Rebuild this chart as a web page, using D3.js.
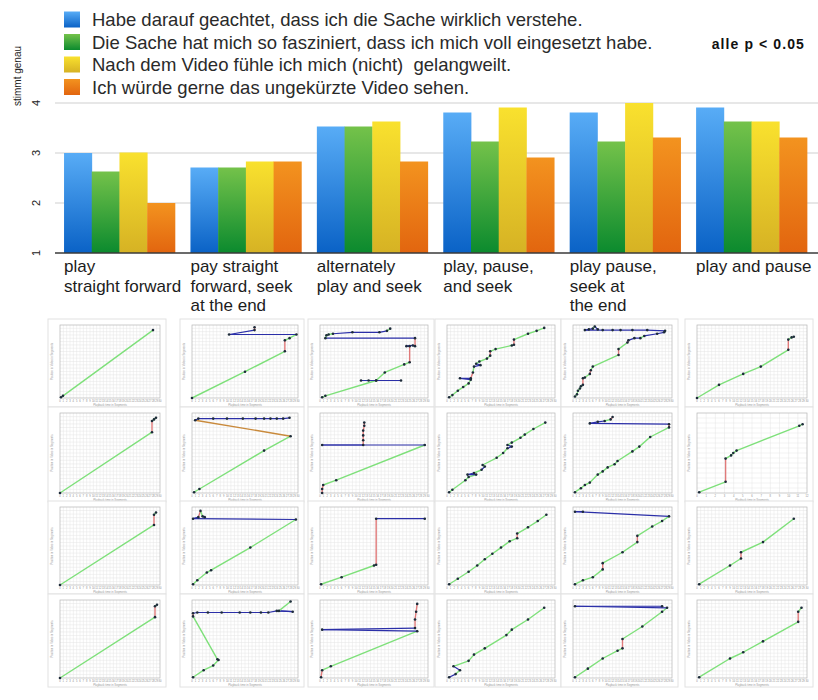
<!DOCTYPE html>
<html>
<head>
<meta charset="utf-8">
<script src="https://cdn.jsdelivr.net/npm/d3@7"></script>
<style>
  body { margin: 0; background: #fff; }
  svg { display: block; font-family: "Liberation Sans", Arial, sans-serif; }
</style>
</head>
<body>
<svg id="chart" width="818" height="700"></svg>
<script>
// *******************
// data
// *******************
const categories = [
  ["play", "straight forward"],
  ["pay straight", "forward, seek", "at the end"],
  ["alternately", "play and seek"],
  ["play, pause,", "and seek"],
  ["play pause,", "seek at", "the end"],
  ["play and pause"]
];
const seriesNames = [
  "Habe darauf geachtet, dass ich die Sache wirklich verstehe.",
  "Die Sache hat mich so fasziniert, dass ich mich voll eingesetzt habe.",
  "Nach dem Video fühle ich mich (nicht)  gelangweilt.",
  "Ich würde gerne das ungekürzte Video sehen."
];
const verstehe = [3.0, 2.71, 3.53, 3.81, 3.81, 3.91];
const fasziniert = [2.63, 2.71, 3.53, 3.23, 3.23, 3.63];
const gelangweilt = [3.01, 2.83, 3.63, 3.91, 4.0, 3.63];
const ungekuerzt = [2.0, 2.83, 2.83, 2.91, 3.31, 3.31];
const yTicks = [1, 2, 3, 4];
const yLabel = "stimmt genau";
const note = "alle p < 0.05";

// interaction traces per thumbnail (row by row), [x, y, segment type]
// g = play, r = pause, b = seek, o = jump back
const traces = [
  // row 1
  [[0.01,0.01],[0.03,0.03,"g"],[0.93,0.93,"g"]],
  [[0,0],[0.5,0.36,"g"],[0.876,0.64,"g"],[0.876,0.79,"r"],[0.92,0.82,"g"],[0.985,0.87,"g"],[0.35,0.87,"b"],[0.59,0.93,"b"],[0.59,0.97,"r"]],
  [[0.02,0.01],[0.05,0.03,"g"],[0.52,0.24,"g"],[0.75,0.24,"b"],[0.38,0.24,"b"],[0.45,0.24,"b"],[0.52,0.24,"b"],[0.6,0.35,"g"],[0.78,0.46,"g"],[0.83,0.49,"g"],[0.83,0.71,"r"],[0.8,0.71,"b"],[0.86,0.72,"b"],[0.88,0.71,"b"],[0.88,0.82,"r"],[0.05,0.82,"b"],[0.06,0.86,"g"],[0.08,0.87,"g"],[0.12,0.88,"g"],[0.3,0.9,"b"],[0.55,0.9,"b"],[0.62,0.92,"b"],[0.65,0.95,"g"]],
  [[0.02,0.01],[0.05,0.04,"g"],[0.1,0.1,"g"],[0.15,0.15,"g"],[0.2,0.2,"g"],[0.22,0.25,"g"],[0.12,0.27,"b"],[0.22,0.27,"b"],[0.24,0.35,"r"],[0.25,0.43,"g"],[0.31,0.45,"b"],[0.27,0.47,"b"],[0.3,0.5,"g"],[0.37,0.54,"g"],[0.4,0.58,"g"],[0.4,0.64,"r"],[0.45,0.67,"g"],[0.6,0.72,"g"],[0.62,0.73,"g"],[0.62,0.8,"r"],[0.75,0.88,"g"],[0.83,0.92,"g"],[0.9,0.96,"g"]],
  [[0.02,0.02],[0.04,0.05,"g"],[0.05,0.1,"g"],[0.07,0.13,"g"],[0.08,0.16,"g"],[0.1,0.18,"g"],[0.1,0.27,"r"],[0.12,0.28,"g"],[0.17,0.33,"g"],[0.18,0.38,"r"],[0.2,0.43,"g"],[0.46,0.59,"g"],[0.46,0.67,"r"],[0.55,0.76,"g"],[0.56,0.79,"r"],[0.62,0.82,"b"],[0.68,0.82,"b"],[0.72,0.85,"g"],[0.85,0.88,"b"],[0.92,0.9,"b"],[0.93,0.92,"g"],[0.75,0.93,"b"],[0.6,0.93,"b"],[0.48,0.93,"b"],[0.4,0.93,"b"],[0.3,0.93,"b"],[0.12,0.93,"b"],[0.16,0.94,"b"],[0.2,0.95,"b"],[0.22,0.98,"g"],[0.25,0.94,"b"]],
  [[0,0],[0.2,0.18,"g"],[0.42,0.33,"g"],[0.58,0.43,"g"],[0.83,0.66,"g"],[0.83,0.8,"r"],[0.86,0.83,"g"],[0.88,0.84,"g"]],
  // row 2
  [[0,0],[0.92,0.76,"g"],[0.92,0.9,"r"],[0.94,0.92,"g"],[0.96,0.94,"g"]],
  [[0.02,0.01],[0.07,0.05,"g"],[0.68,0.53,"g"],[0.93,0.71,"g"],[0.03,0.91,"o"],[0.06,0.93,"b"],[0.2,0.93,"b"],[0.33,0.93,"b"],[0.48,0.93,"b"],[0.6,0.93,"b"],[0.68,0.93,"b"],[0.74,0.93,"b"],[0.8,0.93,"b"],[0.86,0.93,"b"],[0.92,0.94,"b"]],
  [[0.02,0],[0.02,0.05,"r"],[0.03,0.1,"r"],[0.15,0.16,"g"],[0.97,0.6,"g"],[0.02,0.6,"b"],[0.4,0.6,"b"],[0.4,0.66,"r"],[0.4,0.72,"r"],[0.4,0.78,"r"],[0.41,0.84,"r"],[0.41,0.88,"r"]],
  [[0.02,0.01],[0.05,0.04,"g"],[0.17,0.16,"g"],[0.2,0.2,"g"],[0.27,0.23,"g"],[0.19,0.23,"b"],[0.25,0.25,"b"],[0.32,0.29,"g"],[0.35,0.33,"b"],[0.33,0.35,"g"],[0.46,0.44,"g"],[0.52,0.5,"g"],[0.56,0.56,"g"],[0.6,0.58,"b"],[0.56,0.6,"b"],[0.6,0.63,"g"],[0.68,0.69,"g"],[0.72,0.73,"g"],[0.8,0.8,"g"],[0.91,0.88,"g"]],
  [[0.02,0.01],[0.08,0.06,"g"],[0.12,0.1,"g"],[0.17,0.13,"g"],[0.25,0.23,"g"],[0.3,0.27,"g"],[0.35,0.32,"g"],[0.42,0.36,"g"],[0.45,0.4,"g"],[0.6,0.52,"g"],[0.67,0.58,"g"],[0.78,0.7,"g"],[0.97,0.82,"g"],[0.97,0.86,"r"],[0.17,0.87,"b"],[0.25,0.89,"b"],[0.32,0.9,"b"],[0.38,0.92,"g"],[0.4,0.95,"r"]],
  [[0.02,0.01],[0.26,0.14,"g"],[0.26,0.43,"r"],[0.31,0.47,"g"],[0.33,0.5,"g"],[0.36,0.53,"g"],[0.93,0.84,"g"],[0.96,0.86,"g"]],
  // row 3
  [[0,0],[0.94,0.77,"g"],[0.94,0.9,"r"],[0.96,0.93,"g"]],
  [[0.01,0.01],[0.05,0.06,"g"],[0.14,0.16,"g"],[0.18,0.19,"g"],[0.55,0.48,"g"],[0.98,0.84,"g"],[0.01,0.85,"b"],[0.06,0.87,"b"],[0.08,0.95,"r"],[0.1,0.88,"g"],[0.12,0.87,"b"]],
  [[0.01,0.01],[0.2,0.1,"g"],[0.5,0.25,"g"],[0.52,0.26,"g"],[0.52,0.85,"r"],[0.97,0.85,"b"]],
  [[0.02,0.01],[0.1,0.08,"g"],[0.2,0.17,"g"],[0.28,0.25,"g"],[0.35,0.33,"g"],[0.42,0.4,"g"],[0.5,0.48,"g"],[0.58,0.56,"g"],[0.65,0.6,"g"],[0.65,0.66,"r"],[0.75,0.74,"g"],[0.84,0.82,"g"],[0.92,0.9,"g"]],
  [[0.02,0.01],[0.1,0.06,"g"],[0.2,0.1,"g"],[0.3,0.2,"g"],[0.3,0.28,"r"],[0.5,0.42,"g"],[0.65,0.55,"g"],[0.65,0.63,"r"],[0.8,0.75,"g"],[0.9,0.82,"g"],[0.97,0.88,"g"],[0.02,0.94,"b"],[0.1,0.94,"b"]],
  [[0.02,0.01],[0.3,0.25,"g"],[0.4,0.34,"g"],[0.4,0.42,"r"],[0.6,0.55,"g"],[0.88,0.85,"g"]],
  // row 4
  [[0,0],[0.95,0.78,"g"],[0.95,0.92,"r"],[0.97,0.94,"g"]],
  [[0.01,0.01],[0.11,0.1,"g"],[0.2,0.16,"g"],[0.25,0.23,"g"],[0.24,0.24,"g"],[0.01,0.79,"g"],[0.01,0.83,"r"],[0.05,0.84,"b"],[0.15,0.84,"b"],[0.28,0.84,"b"],[0.45,0.84,"b"],[0.55,0.84,"b"],[0.65,0.84,"b"],[0.72,0.84,"b"],[0.8,0.86,"b"],[0.95,0.85,"b"],[0.82,0.86,"b"],[0.93,0.98,"g"]],
  [[0.01,0.01],[0.02,0.1,"r"],[0.1,0.15,"g"],[0.9,0.6,"g"],[0.02,0.62,"b"],[0.88,0.64,"b"],[0.88,0.75,"r"],[0.89,0.85,"r"],[0.9,0.95,"r"]],
  [[0.02,0.01],[0.08,0.05,"b"],[0.12,0.1,"g"],[0.06,0.15,"b"],[0.2,0.22,"g"],[0.25,0.3,"g"],[0.35,0.38,"g"],[0.55,0.55,"g"],[0.6,0.62,"g"],[0.75,0.75,"g"],[0.9,0.9,"g"]],
  [[0.02,0.01],[0.15,0.12,"g"],[0.3,0.25,"g"],[0.45,0.35,"g"],[0.5,0.38,"g"],[0.5,0.5,"r"],[0.7,0.66,"g"],[0.9,0.85,"g"],[0.95,0.9,"g"],[0.02,0.92,"b"],[0.9,0.92,"b"]],
  [[0.02,0.01],[0.3,0.25,"g"],[0.42,0.33,"g"],[0.6,0.47,"g"],[0.92,0.72,"g"],[0.92,0.85,"r"],[0.95,0.9,"g"]]
];

// *******************
// set up
// *******************
const svg = d3.select("#chart");
const COLORS = [
  { top: "#58acf6", bottom: "#0a62c6" },
  { top: "#74c24a", bottom: "#0b8a2e" },
  { top: "#f9e12e", bottom: "#d6b224" },
  { top: "#f3931f", bottom: "#e2650f" }
];
const series = [verstehe, fasziniert, gelangweilt, ungekuerzt];

const defs = svg.append("defs");
COLORS.forEach((c, i) => {
  const g = defs.append("linearGradient")
    .attr("id", `grad-${i}`)
    .attr("x1", 0).attr("y1", 0).attr("x2", 0).attr("y2", 1);
  g.append("stop").attr("offset", "0%").attr("stop-color", c.top);
  g.append("stop").attr("offset", "100%").attr("stop-color", c.bottom);
});

// *******************
// bar chart
// *******************
const x0 = d3.scaleBand()
  .domain(d3.range(categories.length))
  .range([56.2, 814.8])
  .paddingInner(0.123)
  .paddingOuter(0.062);
const x1 = d3.scaleBand()
  .domain(d3.range(series.length))
  .range([0, x0.bandwidth()]);
const y = d3.scaleLinear().domain([1, 4]).range([253, 103]);

// grid lines
svg.append("g")
  .selectAll("line")
  .data(yTicks.filter((d) => d > 1))
  .join("line")
  .attr("x1", 55).attr("x2", 818)
  .attr("y1", (d) => y(d)).attr("y2", (d) => y(d))
  .attr("stroke", "#cfcfcf").attr("stroke-width", 1);

// bars
const groups = svg.append("g")
  .selectAll("g")
  .data(categories)
  .join("g")
  .attr("transform", (d, i) => `translate(${x0(i)},0)`);
groups.selectAll("rect")
  .data((d, i) => series.map((s, k) => ({ k, v: s[i] })))
  .join("rect")
  .attr("x", (d) => x1(d.k))
  .attr("width", x1.bandwidth() + 0.4)
  .attr("y", (d) => y(d.v))
  .attr("height", (d) => y(1) - y(d.v))
  .attr("fill", (d) => `url(#grad-${d.k})`);

// baseline
svg.append("line")
  .attr("x1", 55).attr("x2", 818)
  .attr("y1", y(1)).attr("y2", y(1))
  .attr("stroke", "#3a3a3a").attr("stroke-width", 1.3);

// y tick labels (rotated)
svg.append("g")
  .selectAll("text")
  .data(yTicks)
  .join("text")
  .attr("transform", (d) => `translate(40,${y(d)}) rotate(-90)`)
  .attr("text-anchor", "middle")
  .attr("font-size", 11)
  .attr("fill", "#222")
  .text((d) => d);

svg.append("text")
  .attr("transform", "translate(21,76) rotate(-90)")
  .attr("text-anchor", "middle")
  .attr("font-size", 10)
  .attr("fill", "#222")
  .text(yLabel);

// category labels
const catLabels = svg.append("g")
  .selectAll("text")
  .data(categories)
  .join("text")
  .attr("x", (d, i) => x0(i))
  .attr("y", 272)
  .attr("font-size", 17)
  .attr("fill", "#1c1c1c");
catLabels.selectAll("tspan")
  .data((d) => d)
  .join("tspan")
  .attr("x", function () { return d3.select(this.parentNode).attr("x"); })
  .attr("dy", (d, i) => (i === 0 ? 0 : 19.5))
  .text((d) => d);

// legend
const legend = svg.append("g")
  .selectAll("g")
  .data(seriesNames)
  .join("g")
  .attr("transform", (d, i) => `translate(64,${19.5 + i * 22.5})`);
legend.append("rect")
  .attr("x", 0).attr("y", -8)
  .attr("width", 16).attr("height", 16)
  .attr("fill", (d, i) => `url(#grad-${i})`);
legend.append("text")
  .attr("x", 28).attr("y", 6.5)
  .attr("font-size", 18.5)
  .attr("fill", "#2a2a2a")
  .style("white-space", "pre")
  .text((d) => d);

svg.append("text")
  .attr("x", 805).attr("y", 49)
  .attr("text-anchor", "end")
  .attr("font-size", 14)
  .attr("letter-spacing", 1.1)
  .attr("font-weight", "bold")
  .attr("fill", "#111")
  .text(note);

// *******************
// thumbnails
// *******************
const COL_LEFT = [60, 192, 320, 447, 573, 697];
const COL_WIDTH = [100, 106, 108, 108, 99, 110];
const ROW_TOP = [325, 413, 507, 600];
const ROW_HEIGHT = [73, 80, 78, 78];
const SEG_COLOR = { g: "#7ee07a", r: "#e07a7a", b: "#2b2fa8", o: "#c98a3c" };

traces.forEach((pts, idx) => {
  const row = Math.floor(idx / 6);
  const col = idx % 6;
  const left = COL_LEFT[col];
  const top = ROW_TOP[row];
  const w = COL_WIDTH[col];
  const h = ROW_HEIGHT[row];
  const g = svg.append("g").attr("transform", `translate(${left},${top})`);

  // outer frame
  g.append("rect")
    .attr("x", -12).attr("y", -6)
    .attr("width", w + 18).attr("height", h + 15)
    .attr("fill", "#fff")
    .attr("stroke", "#e2e2e2").attr("stroke-width", 1);

  const sx = d3.scaleLinear().domain([0, 1]).range([0, w]);
  const sy = d3.scaleLinear().domain([0, 1]).range([h, 0]);

  // grid (coarser for the last thumbnail of row 2)
  const nx = idx === 11 ? 12 : 30;
  const ny = idx === 11 ? 16 : 22;
  g.append("g")
    .selectAll("line")
    .data(d3.range(1, nx))
    .join("line")
    .attr("x1", (d) => sx(d / nx)).attr("x2", (d) => sx(d / nx))
    .attr("y1", 0).attr("y2", h)
    .attr("stroke", "#e4e4e4").attr("stroke-width", 0.5);
  g.append("g")
    .selectAll("line")
    .data(d3.range(1, ny))
    .join("line")
    .attr("y1", (d) => sy(d / ny)).attr("y2", (d) => sy(d / ny))
    .attr("x1", 0).attr("x2", w)
    .attr("stroke", "#e4e4e4").attr("stroke-width", 0.5);
  g.append("rect")
    .attr("width", w).attr("height", h)
    .attr("fill", "none")
    .attr("stroke", "#b5b5b5").attr("stroke-width", 0.7);

  // tiny tick labels
  g.append("g")
    .selectAll("text")
    .data(d3.range(0, nx + 1))
    .join("text")
    .attr("x", (d) => sx(d / nx))
    .attr("y", h + 4)
    .attr("text-anchor", "middle")
    .attr("font-size", 2.6)
    .attr("fill", "#888")
    .text((d) => d);
  g.append("text")
    .attr("x", w / 2).attr("y", h + 7.5)
    .attr("text-anchor", "middle")
    .attr("font-size", 2.8)
    .attr("fill", "#999")
    .text("Playback time in Segments");
  g.append("text")
    .attr("transform", `translate(-7,${h / 2}) rotate(-90)`)
    .attr("text-anchor", "middle")
    .attr("font-size", 2.8)
    .attr("fill", "#999")
    .text("Position in Video in Segments");

  // segments
  const segs = pts.slice(1).map((p, i) => ({ a: pts[i], b: p, t: p[2] }));
  g.append("g")
    .selectAll("line")
    .data(segs)
    .join("line")
    .attr("x1", (d) => sx(d.a[0])).attr("y1", (d) => sy(d.a[1]))
    .attr("x2", (d) => sx(d.b[0])).attr("y2", (d) => sy(d.b[1]))
    .attr("stroke", (d) => SEG_COLOR[d.t])
    .attr("stroke-width", (d) => (d.t === "b" ? 1.2 : 1.4))
    .attr("stroke-linecap", "round");

  // dots
  g.append("g")
    .selectAll("circle")
    .data(pts)
    .join("circle")
    .attr("cx", (d) => sx(d[0])).attr("cy", (d) => sy(d[1]))
    .attr("r", 1.3)
    .attr("fill", "#1d2b3a");
});
</script>
</body>
</html>
